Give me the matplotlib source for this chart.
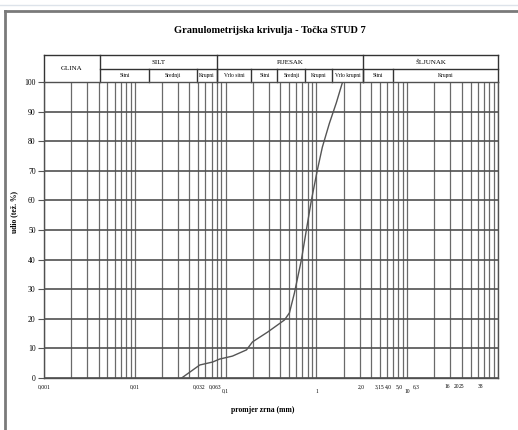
import matplotlib.pyplot as plt
from matplotlib.ticker import LogLocator, NullFormatter

plt.rcParams['font.family'] = ['Liberation Serif', 'DejaVu Serif']

# grain size curve (mm, % passing)
diameter = [0.0328, 0.052, 0.072, 0.086, 0.119, 0.170, 0.198, 0.290, 0.373,
            0.445, 0.505, 0.573, 0.684, 0.776, 0.881, 1.026, 1.164, 1.39,
            1.66, 1.93]
passing = [0, 4.4, 5.4, 6.4, 7.4, 9.5, 12.2, 15.5, 17.9, 19.6, 22.0, 28.7,
           39.9, 50.0, 60.0, 70.3, 78.0, 86.0, 93.0, 99.7]

# bottom labels as printed on the sheet (label, position in mm)
xlabels = ['0,001', '0,01', '0,032', '0,063', '2,0', '3,15', '4,0', '5,0',
           '6,3', '16', '20', '25', '38']
xlabel_pos = [0.001, 0.01, 0.0505, 0.0757, 3.12, 4.92, 6.19, 8.17,
              12.6, 27.5, 35.4, 39.8, 65]
xlabels_low = ['0,1', '1', '10']
xlabel_low_pos = [0.1, 1.0, 10.0]

# header table
main_groups = ['GLINA', 'SILT', 'PIJESAK', 'ŠLJUNAK']
main_edges = [0.001, 0.00413, 0.0796, 3.28, 100]
sub_groups = ['Sitni', 'Srednji', 'Krupni', 'Vrlo sitni', 'Sitni', 'Srednji',
              'Krupni', 'Vrlo krupni', 'Sitni', 'Krupni']
sub_edges = [0.00413, 0.01425, 0.048, 0.0796, 0.193, 0.373, 0.757, 1.50,
             3.28, 7.02, 100]

fig = plt.figure(figsize=(5.18, 4.30), dpi=100)
ax = fig.add_axes([0.0849, 0.1209, 0.8764, 0.6884])

ax.set_xscale('log')
ax.set_xlim(0.001, 100)
ax.set_ylim(0, 100)
ax.xaxis.set_major_locator(LogLocator(base=10))
ax.xaxis.set_minor_locator(LogLocator(base=10, subs=range(2, 10)))
ax.xaxis.set_major_formatter(NullFormatter())
ax.xaxis.set_minor_formatter(NullFormatter())
ax.tick_params(axis='x', which='both', length=0)
ax.set_yticks(range(0, 101, 10))
ax.tick_params(axis='y', length=4, width=0.8, color='#555555', labelsize=5.5,
               pad=2)
ax.grid(True, which='both', axis='x', color='#6a6a6a', lw=0.9)
ax.grid(True, which='major', axis='y', color='#505050', lw=1.2)
for s in ax.spines.values():
    s.set_color('#505050')
    s.set_linewidth(1.0)

ax.plot(diameter, passing, color='#555555', lw=1.0)

tr = ax.get_xaxis_transform()
for lab, x in zip(xlabels, xlabel_pos):
    ax.text(x, -0.03, lab, transform=tr, ha='center', va='center', fontsize=4)
for lab, x in zip(xlabels_low, xlabel_low_pos):
    ax.text(x, -0.045, lab, transform=tr, ha='center', va='center', fontsize=4)

# header boxes
y0, y1, y2 = 1.0, 1.044, 1.091
hk = dict(transform=tr, color='#333333', lw=1.0, clip_on=False)
ax.plot([0.001, 100], [y2, y2], **hk)
ax.plot([0.00413, 100], [y1, y1], **hk)
for e in main_edges:
    ax.plot([e, e], [y0, y2], **hk)
for e in sub_edges[1:-1]:
    ax.plot([e, e], [y0, y1], **hk)
for i, name in enumerate(main_groups):
    lo, hi = main_edges[i], main_edges[i + 1]
    mid = (lo * hi) ** 0.5
    yc = (y0 + y2) / 2 if i == 0 else (y1 + y2) / 2
    ax.text(mid, yc, name, transform=tr, ha='center', va='center', fontsize=5)
for i, name in enumerate(sub_groups):
    lo, hi = sub_edges[i], sub_edges[i + 1]
    mid = (lo * hi) ** 0.5
    ax.text(mid, (y0 + y1) / 2, name, transform=tr, ha='center', va='center',
            fontsize=4)

fig.text(0.521, 0.930, 'Granulometrijska krivulja - Točka STUD 7',
         ha='center', va='center', fontsize=7.5, fontweight='bold')
fig.text(0.508, 0.046, 'promjer zrna (mm)', ha='center', va='center',
         fontsize=5.5, fontweight='bold')
fig.text(0.028, 0.507, 'udio (tež. %)', ha='center', va='center',
         rotation=90, fontsize=5.5, fontweight='bold')

# page frame
fig.add_artist(plt.Line2D([0, 1], [0.988, 0.988], color='#dde3ea', lw=1.0))
fig.add_artist(plt.Line2D([0.0097, 1], [0.975, 0.975], color='#7a7a7a', lw=2))
fig.add_artist(plt.Line2D([0.0097, 0.0097], [0, 0.975], color='#7a7a7a', lw=2))

fig.savefig('out.png', dpi=100)
